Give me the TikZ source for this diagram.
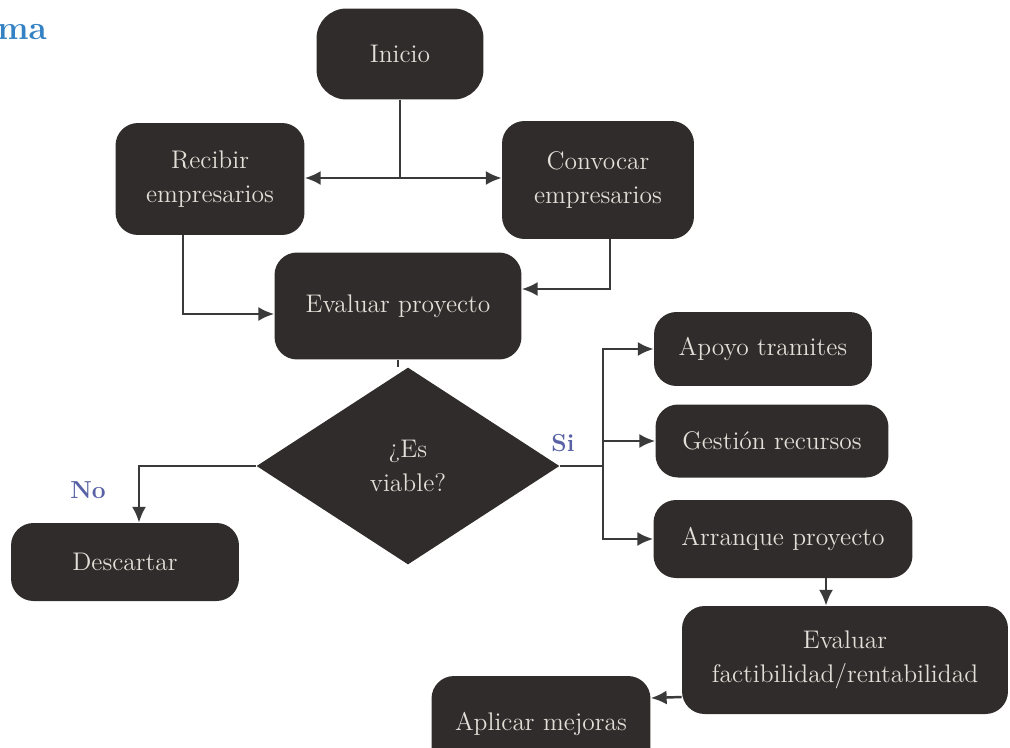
\documentclass[tikz,border=0pt]{standalone}
\usetikzlibrary{shapes.geometric,arrows.meta,calc}
\definecolor{boxfill}{RGB}{47,44,43}
\definecolor{boxtext}{RGB}{226,223,216}
\definecolor{linegray}{RGB}{58,58,58}
\definecolor{labelblue}{RGB}{88,98,165}
\definecolor{titleblue}{RGB}{52,130,196}

\begin{document}
\begin{tikzpicture}[x=0.02cm,y=-0.02cm,
    box/.style={rectangle,rounded corners=0.45cm,fill=boxfill,text=boxtext,align=center,inner sep=2pt,font=\fontsize{14.5}{19}\selectfont},
    decision/.style={diamond,fill=boxfill,text=boxtext,align=center,inner sep=0pt,font=\fontsize{14.5}{19}\selectfont},
    answer/.style={text=labelblue,font=\fontsize{14}{17}\selectfont\bfseries},
    flow/.style={draw=linegray,line width=1.4pt},
    arr/.style={flow,-{Latex[length=9pt,width=8pt]}}]
    \useasboundingbox (0,0) rectangle (1010,747);
    \node[anchor=base west,text=titleblue,font=\fontsize{19}{22}\selectfont\bfseries,inner sep=0pt] (title) at (-3,39) {ma};

    \node[box,rounded corners=0.6cm,minimum width=3.34cm,minimum height=1.82cm] (inicio) at (400, 54) {Inicio};
    \node[box,minimum width=3.78cm,minimum height=2.24cm] (recibir) at (210, 179) {Recibir\\empresarios};
    \node[box,minimum width=3.84cm,minimum height=2.36cm] (convocar) at (598, 180) {Convocar\\empresarios};
    \node[box,minimum width=4.94cm,minimum height=2.14cm] (evaluar) at (398, 306) {Evaluar proyecto};
    \node[decision,minimum width=6.06cm,minimum height=3.94cm] (viable) at (408, 466) {¿Es\\viable?};
    \node[box,minimum width=4.36cm,minimum height=1.48cm] (apoyo) at (763, 349) {Apoyo tramites};
    \node[box,minimum width=4.66cm,minimum height=1.46cm] (gestion) at (772, 441) {Gestión recursos};
    \node[box,minimum width=5.18cm,minimum height=1.56cm] (arranque) at (783, 539) {Arranque proyecto};
    \node[box,minimum width=6.52cm,minimum height=2.16cm] (factib) at (845, 660) {Evaluar\\factibilidad/rentabilidad};
    \node[box,minimum width=4.38cm,minimum height=1.92cm] (mejoras) at (541, 724) {Aplicar mejoras};
    \node[box,minimum width=4.56cm,minimum height=1.56cm] (descartar) at (125, 562) {Descartar};

    \node[answer] (si) at (563, 443) {Si};
    \node[answer] (no) at (88, 490) {No};

    \coordinate (split) at (400, 178);
    \coordinate (bus) at (603, 466);

    \draw[flow] (inicio) -- (split);
    \draw[arr] (split) -- (split -| recibir.east);
    \draw[arr] (split) -- (split -| convocar.west);
    \draw[arr] ($(recibir.south)+(-27,0)$) |- ($(evaluar.west)+(0,8)$);
    \draw[arr] ($(convocar.south)+(12,0)$) |- ($(evaluar.east)+(0,-17)$);
    \draw[flow] (evaluar.south) -- (evaluar.south |- viable.north);
    \draw[flow] (viable.east) -- (bus);
    \draw[arr] (bus) |- (apoyo);
    \draw[arr] (bus) |- (gestion);
    \draw[arr] (bus) |- (arranque);
    \draw[arr] (viable.west) -| ($(descartar.north)+(14,0)$);
    \draw[arr] ($(arranque.south)+(43,0)$) -- ($(factib.north)+(-19,0)$);
    \draw[arr] ($(factib.west)+(0,37)$) -- ($(mejoras.east)+(0,-26)$);
\end{tikzpicture}
\end{document}
